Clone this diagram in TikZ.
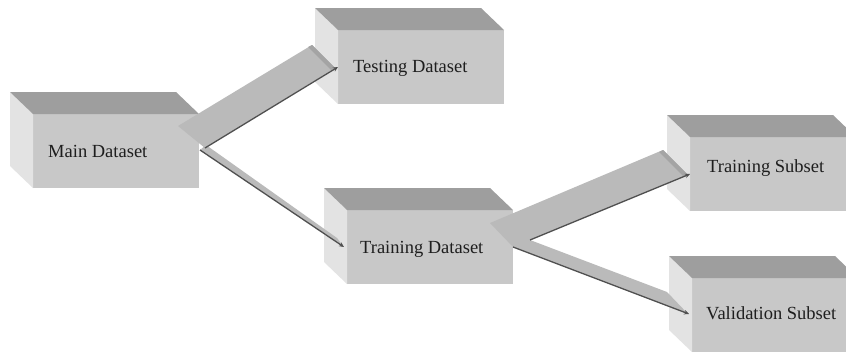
\documentclass[tikz,border=0pt]{standalone}
\usepackage{fontspec}
\setmainfont{Liberation Serif}
\usetikzlibrary{calc,arrows.meta}

\definecolor{frontgray}{HTML}{C8C8C8}
\definecolor{topgray}{HTML}{9E9E9E}
\definecolor{sidegray}{HTML}{E3E3E3}
\definecolor{bandgray}{HTML}{BABABA}
\definecolor{bevelgray}{HTML}{A4A4A4}
\definecolor{darkline}{HTML}{505050}
\definecolor{textgray}{HTML}{1E1E1E}

\tikzset{
  frontface/.style={fill=frontgray, draw=none, anchor=north west,
    minimum width=166pt, minimum height=74pt, inner sep=0pt, outer sep=0pt},
  leftface/.style={fill=sidegray},
  topface/.style={fill=topgray},
  labeltext/.style={text=textgray, inner sep=0pt, anchor=base west,
    font=\fontsize{18.5}{22}\selectfont},
  band/.style={fill=bandgray},
  bevel/.style={fill=bevelgray},
  darrow/.style={draw=darkline, line width=1.3pt,
    -{Stealth[length=5pt,width=4.5pt]}}
}

% 3D data box: name, front top-left corner, label offset, label
\newcommand{\dsbox}[4]{%
  \node[frontface] (#1) at (#2) {};
  \fill[leftface] (#1.north west) -- ++(-23,-22)
     -- ($(#1.south west)+(-23,-22)$) -- (#1.south west) -- cycle;
  \fill[topface] (#1.north west) -- ++(-23,-22)
     -- ($(#1.north east)+(-23,-22)$) -- (#1.north east) -- cycle;
  \node[labeltext] (#1-text) at ($(#1.north west)+(#3)$) {#4};
}

\begin{document}
\begin{tikzpicture}[x=1pt,y=-1pt]
\useasboundingbox (0,0) rectangle (846,356);
\fill[white] (0,0) rectangle (846,356);
\begin{scope}
\clip (0,0) rectangle (846,356);

% boxes
\dsbox{main}{33,114}{15,43}{Main Dataset}
\dsbox{testing}{338,30}{15,42}{Testing Dataset}
\dsbox{training}{347,210}{13,43}{Training Dataset}
\dsbox{trsub}{690,137}{17,35}{Training Subset}
\dsbox{valsub}{692,278}{14,41}{Validation Subset}

% wide band: main -> testing
\fill[band] ($(main.east)+(-21,-25)$) -- ($(testing.west)+(-26,-22)$)
  -- ($(testing.west)+(-3,1)$) -- ($(main.east)+(6,-3)$) -- cycle;
\fill[bevel] ($(testing.west)+(-26,-22)$) -- ($(testing.west)+(-3,1)$)
  -- ($(testing.west)+(-7,3)$) -- ($(testing.west)+(-30,-20)$) -- cycle;

% thin band: main -> training
\fill[band] ($(main.east)+(1,-1)$) -- ($(main.east)+(7,-6)$)
  -- ($(training.west)+(-10,-9)$) -- ($(training.west)+(-4,-1)$) -- cycle;

% forked band: training -> subsets
\fill[band] ($(training.east)+(-23,-24)$) -- ($(trsub.west)+(-27,-24)$)
  -- ($(trsub.west)+(-2,1)$) -- ($(training.east)+(17,-7)$)
  -- ($(valsub.west)+(-25,-23)$) -- ($(valsub.west)+(-4,-1)$)
  -- (training.east) -- cycle;
\fill[bevel] ($(trsub.west)+(-27,-24)$) -- ($(trsub.west)+(-2,1)$)
  -- ($(trsub.west)+(-6,3)$) -- ($(trsub.west)+(-31,-22)$) -- cycle;

% dark edges with arrow tips
\draw[darrow] ($(main.east)+(6,-3)$) -- (testing.west);
\draw[darrow] ($(main.east)+(1,-1)$) -- ($(training.west)+(-3,0)$);
\draw[darrow] ($(training.east)+(17,-7)$) -- (trsub.west);
\draw[darrow] (training.east) -- ($(valsub.west)+(-3,-1)$);
\end{scope}
\end{tikzpicture}
\end{document}
